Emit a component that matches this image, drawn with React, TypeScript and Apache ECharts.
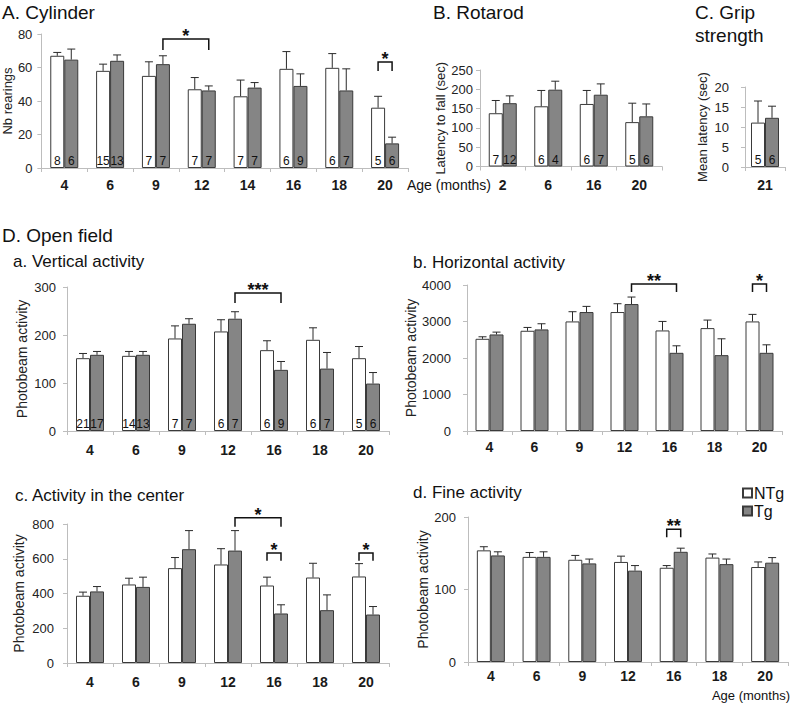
import React, { useEffect, useRef } from 'react';
import * as echarts from 'echarts';

// ---------- A. Cylinder ----------
const cylAges = ['4', '6', '9', '12', '14', '16', '18', '20'];
const cylNTg = [67, 58, 55, 47, 42.8, 59.2, 59.8, 36];
const cylNTgErr = [69, 62, 63.4, 54, 52.5, 69.5, 68.3, 42.8];
const cylTg = [64.7, 64, 62, 46.3, 48, 49, 46.3, 14.7];
const cylTgErr = [71, 67.5, 67, 49, 51, 56.2, 59.2, 18.4];
const cylNNTg = ['8', '15', '7', '7', '7', '6', '6', '5'];
const cylNTgN = ['6', '13', '7', '7', '7', '9', '7', '6'];
// bracket: [fromCat, fromSide(0=NTg,1=Tg), toCat, toSide, topValue, legValue, stars]
const cylBrackets = [
  [2, 1, 3, 1, 77, 70.4, 1],
  [7, 0, 7, 1, 63.3, 57.9, 1],
];

// ---------- B. Rotarod ----------
const rotAges = ['2', '6', '16', '20'];
const rotNTg = [138, 156, 162, 115];
const rotNTgErr = [171, 197, 197, 164];
const rotTg = [164, 199, 186, 130];
const rotTgErr = [183, 221, 214, 162];
const rotNNTg = ['7', '6', '6', '5'];
const rotNTgN = ['12', '4', '7', '6'];

// ---------- C. Grip strength ----------
const gripAges = ['21'];
const gripNTg = [11.1];
const gripNTgErr = [16.5];
const gripTg = [12.3];
const gripTgErr = [15.2];
const gripNNTg = ['5'];
const gripNTgN = ['6'];

// ---------- D. Open field ----------
const ofAges = ['4', '6', '9', '12', '16', '18', '20'];

const vertNTg = [151.7, 156.6, 192.8, 207.4, 168.4, 190, 151.7];
const vertNTgErr = [161.5, 165.7, 219, 231.8, 188, 215, 176];
const vertTg = [158.7, 158.7, 223.4, 233.9, 127.4, 130, 98.8];
const vertTgErr = [165.7, 165.7, 233.9, 248.5, 144.8, 163.6, 121.8];
const vertNNTg = ['21', '14', '7', '6', '6', '6', '5'];
const vertNTgN = ['17', '13', '7', '7', '9', '7', '6'];
const vertBrackets = [[3, 1, 4, 1, 287.5, 266.7, 3]];

const horNTg = [2526, 2746, 3002, 3259, 2755, 2819, 3002];
const horNTgErr = [2581, 2837, 3268, 3487, 3002, 3039, 3195];
const horTg = [2645, 2783, 3259, 3478, 2142, 2078, 2142];
const horTgErr = [2709, 2938, 3414, 3670, 2334, 2526, 2361];
const horBrackets = [
  [3, 1, 4, 1, 4027, 3808, 2],
  [6, 0, 6, 1, 4027, 3808, 1],
];

const cenNTg = [387, 452, 546, 567, 446, 492, 498];
const cenNTgErr = [408, 488, 607, 658, 494, 574, 572];
const cenTg = [412, 438, 655, 647, 285, 304, 279];
const cenTgErr = [440, 494, 762, 762, 335, 392, 325];
const cenBrackets = [
  [3, 1, 4, 1, 836, 784, 1],
  [4, 0, 4, 1, 633, 589, 1],
  [6, 0, 6, 1, 633, 589, 1],
];

const fineNTg = [154, 145, 141, 138, 130, 144, 131];
const fineNTgErr = [159, 151, 147, 146, 133, 149, 138];
const fineTg = [147, 145, 136, 126, 152, 135, 137];
const fineTgErr = [152, 152, 142, 133, 157, 142, 144];
const fineBrackets = [[4, 0, 4, 1, 183, 172, 2]];

const FONT = "'Liberation Sans', Arial, sans-serif";
const XFONT = "'Liberation Sans Narrow', 'Liberation Sans', Arial, sans-serif";
const AXIS_COLOR = '#bdbdbd';
const TEXT = '#1a1a1a';
const HALF = 7; // half bar width

interface PanelCfg {
  grid: { left: number; top: number; width: number; height: number };
  cats: string[];
  ntg: number[];
  ntgErr: number[];
  tg: number[];
  tgErr: number[];
  nNTg?: string[];
  nTg?: string[];
  brackets?: number[][];
  min: number;
  max: number;
  interval: number;
  yName: string;
  nameGap: number;
  nameSize: number;
  labelMargin: number;
  xMargin: number;
}

function buildPanel(gi: number, c: PanelCfg) {
  const xAxis = {
    type: 'category',
    gridIndex: gi,
    data: c.cats,
    boundaryGap: true,
    axisLine: { show: true, lineStyle: { color: AXIS_COLOR, width: 1 } },
    axisTick: { show: true, length: 4, lineStyle: { color: AXIS_COLOR } },
    axisLabel: {
      fontFamily: XFONT,
      fontWeight: 'bold',
      fontSize: 14,
      color: TEXT,
      margin: c.xMargin,
    },
  };
  const yAxis = {
    type: 'value',
    gridIndex: gi,
    min: c.min,
    max: c.max,
    interval: c.interval,
    axisLine: { show: true, lineStyle: { color: AXIS_COLOR, width: 1 } },
    axisTick: { show: true, length: 4, lineStyle: { color: AXIS_COLOR } },
    splitLine: { show: false },
    axisLabel: {
      fontFamily: FONT,
      fontSize: 13,
      color: '#222',
      margin: c.labelMargin,
      formatter: (v: number) => String(v),
    },
    name: c.yName,
    nameLocation: 'middle',
    nameGap: c.nameGap,
    nameTextStyle: { fontFamily: FONT, fontSize: c.nameSize, color: '#222' },
  };
  const nLabel = (arr?: string[]) =>
    arr
      ? {
          show: true,
          position: 'insideBottom',
          distance: 1,
          fontFamily: FONT,
          fontSize: 12,
          color: '#111',
          formatter: (p: any) => arr[p.dataIndex],
        }
      : { show: false };
  const series: any[] = [
    {
      type: 'bar',
      name: 'NTg',
      xAxisIndex: gi,
      yAxisIndex: gi,
      data: c.ntg,
      barWidth: HALF * 2,
      barGap: '0%',
      itemStyle: { color: '#ffffff', borderColor: '#3a3a3a', borderWidth: 1 },
      label: nLabel(c.nNTg),
    },
    {
      type: 'bar',
      name: 'Tg',
      xAxisIndex: gi,
      yAxisIndex: gi,
      data: c.tg,
      barWidth: HALF * 2,
      barGap: '0%',
      itemStyle: { color: '#858585', borderColor: '#3a3a3a', borderWidth: 1 },
      label: nLabel(c.nTg),
    },
    {
      type: 'custom',
      name: 'err',
      xAxisIndex: gi,
      yAxisIndex: gi,
      encode: { x: 0, y: 2 },
      data: [
        ...c.ntg.map((v, i) => [i, v, c.ntgErr[i], 0]),
        ...c.tg.map((v, i) => [i, v, c.tgErr[i], 1]),
      ],
      z: 5,
      renderItem: (params: any, api: any) => {
        const cat = api.value(0);
        const base = api.coord([cat, api.value(1)]);
        const top = api.coord([cat, api.value(2)]);
        const x = base[0] + (api.value(3) ? HALF : -HALF);
        const st = { stroke: '#2a2a2a', lineWidth: 1 };
        return {
          type: 'group',
          children: [
            { type: 'line', shape: { x1: x, y1: base[1], x2: x, y2: top[1] }, style: st },
            { type: 'line', shape: { x1: x - 4, y1: top[1], x2: x + 4, y2: top[1] }, style: st },
          ],
        };
      },
    },
  ];
  if (c.brackets && c.brackets.length) {
    series.push({
      type: 'custom',
      name: 'sig',
      xAxisIndex: gi,
      yAxisIndex: gi,
      encode: { x: 0, y: 4 },
      clip: false,
      z: 6,
      data: c.brackets,
      renderItem: (params: any, api: any) => {
        const a = api.coord([api.value(0), api.value(4)]);
        const b = api.coord([api.value(2), api.value(4)]);
        const leg = api.coord([api.value(0), api.value(5)]);
        const x1 = a[0] + (api.value(1) ? HALF : -HALF);
        const x2 = b[0] + (api.value(3) ? HALF : -HALF);
        const yT = a[1];
        const yL = leg[1];
        const stars = '*'.repeat(api.value(6));
        return {
          type: 'group',
          children: [
            {
              type: 'polyline',
              shape: { points: [[x1, yL], [x1, yT], [x2, yT], [x2, yL]] },
              style: { stroke: '#111', lineWidth: 1.5, fill: 'none' },
            },
            {
              type: 'text',
              x: (x1 + x2) / 2,
              y: yT - 3,
              style: {
                text: stars,
                fontFamily: FONT,
                fontWeight: 'bold',
                fontSize: 18,
                fill: '#111',
                align: 'center',
                verticalAlign: 'middle',
              },
            },
          ],
        };
      },
    });
  }
  return { grid: { ...c.grid, containLabel: false }, xAxis, yAxis, series };
}

const panels: PanelCfg[] = [
  {
    grid: { left: 40, top: 34, width: 368, height: 134 },
    cats: cylAges, ntg: cylNTg, ntgErr: cylNTgErr, tg: cylTg, tgErr: cylTgErr,
    nNTg: cylNNTg, nTg: cylNTgN, brackets: cylBrackets,
    min: 0, max: 80, interval: 20, yName: 'Nb rearings', nameGap: 22, nameSize: 13, labelMargin: 9, xMargin: 10,
  },
  {
    grid: { left: 480, top: 70, width: 182, height: 96.5 },
    cats: rotAges, ntg: rotNTg, ntgErr: rotNTgErr, tg: rotTg, tgErr: rotTgErr,
    nNTg: rotNNTg, nTg: rotNTgN,
    min: 0, max: 250, interval: 50, yName: 'Latency to fall (sec)', nameGap: 27, nameSize: 13, labelMargin: 7, xMargin: 11,
  },
  {
    grid: { left: 745, top: 87, width: 40, height: 80 },
    cats: gripAges, ntg: gripNTg, ntgErr: gripNTgErr, tg: gripTg, tgErr: gripTgErr,
    nNTg: gripNNTg, nTg: gripNTgN,
    min: 0, max: 20, interval: 5, yName: 'Mean latency (sec)', nameGap: 36, nameSize: 13, labelMargin: 16, xMargin: 11,
  },
  {
    grid: { left: 67, top: 287, width: 322, height: 144 },
    cats: ofAges, ntg: vertNTg, ntgErr: vertNTgErr, tg: vertTg, tgErr: vertTgErr,
    nNTg: vertNNTg, nTg: vertNTgN, brackets: vertBrackets,
    min: 0, max: 300, interval: 100, yName: 'Photobeam activity', nameGap: 38, nameSize: 14, labelMargin: 11, xMargin: 12,
  },
  {
    grid: { left: 467, top: 285, width: 315, height: 146 },
    cats: ofAges, ntg: horNTg, ntgErr: horNTgErr, tg: horTg, tgErr: horTgErr,
    brackets: horBrackets,
    min: 0, max: 4000, interval: 1000, yName: 'Photobeam activity', nameGap: 47, nameSize: 14, labelMargin: 16, xMargin: 9,
  },
  {
    grid: { left: 67, top: 524, width: 322, height: 139 },
    cats: ofAges, ntg: cenNTg, ntgErr: cenNTgErr, tg: cenTg, tgErr: cenTgErr,
    brackets: cenBrackets,
    min: 0, max: 800, interval: 200, yName: 'Photobeam activity', nameGap: 41, nameSize: 14, labelMargin: 13, xMargin: 12,
  },
  {
    grid: { left: 468, top: 517, width: 320, height: 145 },
    cats: ofAges, ntg: fineNTg, ntgErr: fineNTgErr, tg: fineTg, tgErr: fineTgErr,
    brackets: fineBrackets,
    min: 0, max: 200, interval: 100, yName: 'Photobeam activity', nameGap: 38, nameSize: 14, labelMargin: 12, xMargin: 7,
  },
];

const titles = [
  { text: 'A. Cylinder', left: 2, top: 1, size: 19 },
  { text: 'B. Rotarod', left: 433, top: 1, size: 19 },
  { text: 'C. Grip\nstrength', left: 695, top: 1, size: 19 },
  { text: 'D. Open field', left: 2, top: 224, size: 19 },
  { text: 'a. Vertical activity', left: 13, top: 250, size: 17 },
  { text: 'b. Horizontal activity', left: 413, top: 251, size: 17 },
  { text: 'c. Activity in the center', left: 15, top: 484, size: 17 },
  { text: 'd. Fine activity', left: 413, top: 481, size: 17 },
];

export default function App() {
  const ref = useRef<HTMLDivElement>(null);
  useEffect(() => {
    if (!ref.current) return;
    const chart = echarts.init(ref.current, undefined, { renderer: 'svg' });
    const built = panels.map((p, i) => buildPanel(i, p));
    const option: any = {
      animation: false,
      backgroundColor: '#ffffff',
      textStyle: { fontFamily: FONT },
      title: titles.map((t) => ({
        text: t.text,
        left: t.left,
        top: t.top,
        padding: 0,
        textStyle: {
          fontFamily: FONT,
          fontWeight: 'normal',
          fontSize: t.size,
          color: '#111',
          lineHeight: 23,
        },
      })),
      legend: {
        data: ['NTg', 'Tg'],
        orient: 'vertical',
        left: 742,
        top: 485,
        padding: 0,
        itemWidth: 9,
        itemHeight: 9,
        itemGap: 2,
        icon: 'rect',
        selectedMode: false,
        textStyle: { fontFamily: FONT, fontSize: 16, color: '#111', padding: [0, 0, 0, -3] },
      },
      grid: built.map((b) => b.grid),
      xAxis: built.map((b) => b.xAxis),
      yAxis: built.map((b) => b.yAxis),
      series: built.flatMap((b) => b.series),
      graphic: [
        {
          type: 'text',
          x: 407,
          y: 185,
          style: { text: 'Age (months)', fontFamily: FONT, fontSize: 14, fill: '#111', align: 'left', verticalAlign: 'middle' },
        },
        {
          type: 'text',
          x: 790,
          y: 695,
          style: { text: 'Age (months)', fontFamily: FONT, fontSize: 13, fill: '#111', align: 'right', verticalAlign: 'middle' },
        },
      ],
    };
    chart.setOption(option);
    return () => chart.dispose();
  }, []);
  return (
    <div
      ref={ref}
      style={{ position: 'absolute', left: 0, top: 0, width: 797, height: 708, background: '#fff' }}
    />
  );
}
